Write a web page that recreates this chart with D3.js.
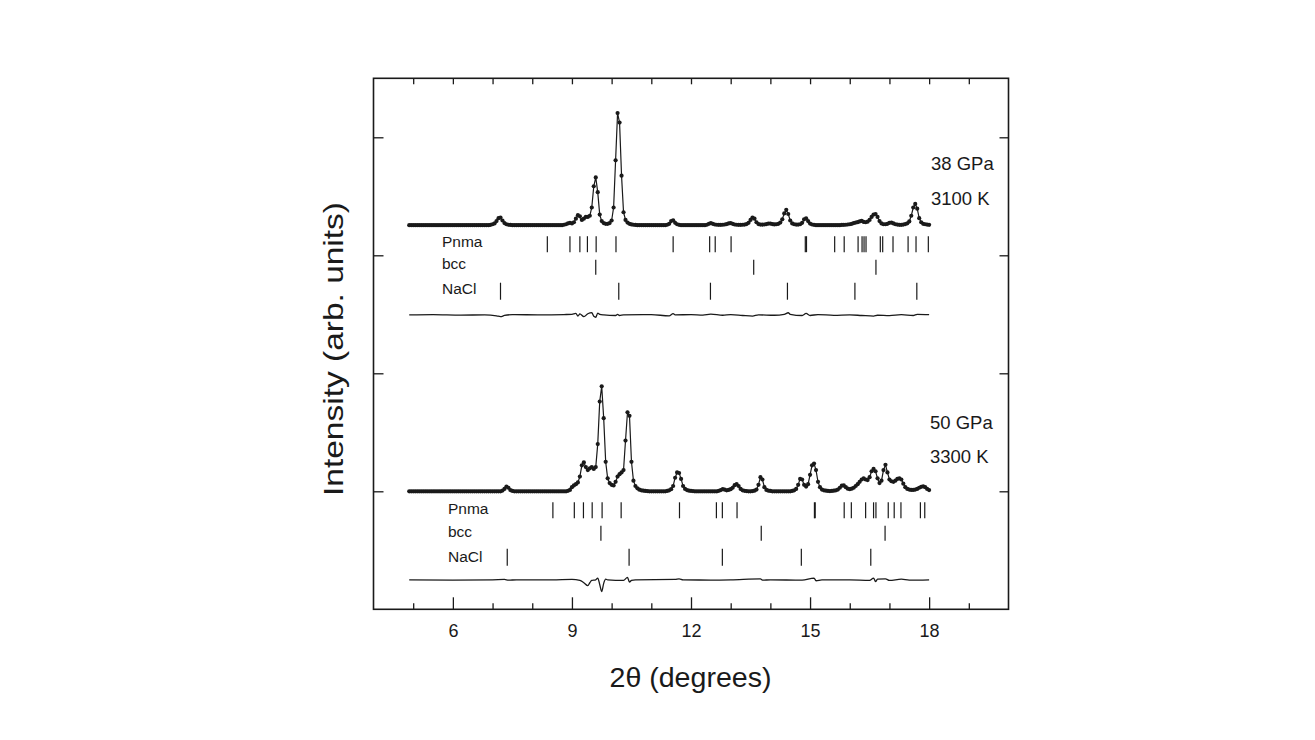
<!DOCTYPE html>
<html><head><meta charset="utf-8">
<script src="https://cdn.jsdelivr.net/npm/d3@7"></script>
<style>
body{margin:0;background:#fff}
svg{display:block}
text{font-family:"Liberation Sans",Arial,Helvetica,sans-serif;fill:#1a1a1a}
</style>
</head><body>
<svg id="c" width="1315" height="740"></svg>
<script>
// ---------------- DATA ----------------
const twoThetaStep = 0.05;               // constant scan step (deg)
const xTicksMajor = [6, 9, 12, 15, 18];
const xTicksMinor = [5, 7, 8, 10, 11, 13, 14, 16, 17, 19];
const yTicks = [1000, 2000, 3000, 4000];

// observed intensities (counts above pattern background), rows start at given 2θ
const obs38 = [
  [4.9,  [0,0]],
  [5.0,  [0,0,0,0,0,0,0,0,0,0,0,0,0,0,0,0,0,0,0,0]],
  [6.0,  [0,0,0,0,0,0,0,0,0,0,0,0,0,0,0,0,0,0,0,3]],
  [7.0,  [8,15,35,60,65,40,18,8,4,2,0,0,0,0,0,0,0,0,0,0]],
  [8.0,  [0,0,0,0,0,0,0,0,0,0,0,0,0,0,0,0,4,8,15,20]],
  [9.0,  [15,25,55,85,75,45,55,70,70,80,150,330,405,280,90,35,18,12,12,18]],
  [10.0, [40,150,550,950,870,420,110,45,22,12,7,4,2,0,0,0,0,0,0,0]],
  [11.0, [0,0,0,0,0,0,0,0,4,12,35,42,20,8,3,0,0,0,0,0]],
  [12.0, [0,0,0,0,0,0,0,0,4,12,18,12,6,4,3,3,4,6,10,15]],
  [13.0, [18,12,6,4,3,3,4,5,10,20,45,65,55,25,10,5,5,6,10,14]],
  [14.0, [14,10,7,8,12,22,50,100,130,95,40,15,8,5,5,8,20,50,58,35]],
  [15.0, [14,6,3,0,0,0,0,0,0,0,0,0,0,0,0,0,2,3,4,6]],
  [16.0, [8,12,18,22,26,32,36,28,25,30,45,70,90,95,70,35,15,8,8,12]],
  [17.0, [20,22,15,8,5,3,3,5,10,16,32,80,150,180,140,60,25,12,8,5]],
  [18.0, [3]]
];
const obs50 = [
  [4.9,  [0,0]],
  [5.0,  [0,0,0,0,0,0,0,0,0,0,0,0,0,0,0,0,0,0,0,0]],
  [6.0,  [0,0,0,0,0,0,0,0,0,0,0,0,0,0,0,0,0,0,0,0]],
  [7.0,  [0,0,0,0,0,6,20,40,30,10,3,0,0,0,0,0,0,0,0,0]],
  [8.0,  [0,0,0,0,0,0,0,0,0,0,0,0,0,0,0,0,0,0,4,12]],
  [9.0,  [35,50,60,75,125,220,245,205,180,195,205,190,205,400,760,890,620,250,110,70]],
  [10.0, [55,50,80,125,145,160,180,430,670,640,250,90,45,25,14,8,5,3,2,0]],
  [11.0, [0,0,0,0,0,0,0,0,3,8,18,45,115,160,155,105,45,20,10,5]],
  [12.0, [3,2,0,0,0,0,0,0,0,0,0,0,0,0,4,10,18,14,8,12]],
  [13.0, [18,30,52,60,45,20,8,4,2,0,0,2,5,15,55,120,100,35,12,5]],
  [14.0, [3,0,0,0,0,0,0,0,0,0,0,3,8,20,55,105,100,55,40,60]],
  [15.0, [140,220,235,180,80,35,15,8,5,3,2,3,5,8,15,30,48,50,35,22]],
  [16.0, [18,22,30,45,60,80,100,110,100,95,120,170,190,170,110,70,90,180,225,160]],
  [17.0, [100,85,80,90,105,110,100,65,35,20,15,12,12,15,20,30,38,42,35,20]],
  [18.0, [10]]
];

// difference curves [2θ, counts]
const diff38 = [[4.9,0],[5.5,2],[6.2,-2],[6.8,0],[7.1,-8],[7.2,-15],[7.3,-5],[7.5,2],[8.2,0],[8.8,3],
  [9.0,5],[9.1,12],[9.15,-10],[9.2,8],[9.3,-15],[9.4,10],[9.5,20],[9.55,-12],[9.6,-20],[9.65,15],[9.7,5],
  [9.8,0],[10.1,-5],[10.15,5],[10.2,-5],[10.3,0],[11.0,2],[11.45,-8],[11.55,10],[11.6,0],[12.0,2],[12.3,-2],
  [12.5,6],[12.8,-3],[13.0,2],[13.3,-5],[13.55,-10],[13.7,0],[14.1,-3],[14.35,5],[14.45,18],[14.5,5],
  [14.8,-5],[14.9,12],[15.0,-5],[15.2,3],[15.6,-4],[16.0,0],[16.3,-5],[16.6,-10],[16.7,-3],[17.0,-6],
  [17.3,2],[17.6,-5],[17.7,5],[18.0,2]];
const diff50 = [[4.9,0],[6.0,-2],[7.0,0],[7.3,3],[7.4,-3],[7.6,0],[8.5,0],[9.0,3],[9.2,-5],[9.3,-25],
  [9.4,-50],[9.45,-25],[9.5,-5],[9.6,0],[9.65,15],[9.7,-40],[9.75,-100],[9.8,-30],[9.85,5],[9.9,0],
  [10.3,-5],[10.4,20],[10.45,-20],[10.5,-5],[10.6,0],[11.6,3],[11.7,8],[11.8,0],[12.5,-2],[13.0,0],
  [13.75,8],[13.8,-3],[14.0,0],[14.8,-3],[15.1,15],[15.15,-8],[15.3,0],[16.0,0],[16.5,-5],[16.6,15],
  [16.65,-15],[16.7,5],[16.9,8],[17.0,-5],[17.3,5],[17.5,-3],[18.0,0]];

// reflection positions (2θ)
const pnma38 = [8.38,8.95,9.20,9.39,9.61,10.11,11.55,12.47,12.61,13.01,14.88,14.91,15.62,15.86,16.21,16.31,16.36,16.41,16.77,16.83,17.09,17.47,17.67,17.98];
const bcc38  = [9.60,13.58,16.66];
const nacl38 = [7.20,10.18,12.49,14.43,16.13,17.69];
const pnma50 = [8.52,9.06,9.29,9.51,9.76,10.24,11.71,12.64,12.79,13.16,15.11,15.13,15.86,16.04,16.40,16.60,16.66,16.97,17.12,17.29,17.78,17.89];
const bcc50  = [9.73,13.77,16.89];
const nacl50 = [7.37,10.44,12.79,14.78,16.53];

// stacking offsets (counts)
const offset38 = 3255, offsetDiff38 = 2495;
const offset50 = 1000, offsetDiff50 = 250;

// ---------------- CHART ----------------
const svg = d3.select('#c');
const ink = '#1a1a1a';
const x = d3.scaleLinear().domain([4, 20]).range([373.5, 1008.5]);
const y = d3.scaleLinear().domain([0, 4500]).range([609.3, 78.3]);

function styleAxis(g){
  g.select('.domain').remove();
  g.selectAll('line').attr('stroke', ink).attr('stroke-width', 1.3);
  g.attr('font-family', null).attr('font-size', null);
}

svg.append('g').attr('transform', `translate(0,${y(0)})`)
  .call(d3.axisBottom(x).tickValues(xTicksMajor).tickSize(-12).tickPadding(15).tickFormat(d3.format('d')))
  .call(styleAxis)
  .selectAll('text').style('font-size', '18px').attr('fill', ink);
svg.append('g').attr('transform', `translate(0,${y(0)})`)
  .call(d3.axisBottom(x).tickValues(xTicksMinor).tickSize(-6).tickFormat(''))
  .call(styleAxis);
svg.append('g').attr('transform', `translate(0,${y(4500)})`)
  .call(d3.axisTop(x).tickValues(xTicksMajor.concat(xTicksMinor)).tickSize(-6).tickFormat(''))
  .call(styleAxis);
svg.append('g').attr('transform', `translate(${x(4)},0)`)
  .call(d3.axisLeft(y).tickValues(yTicks).tickSize(-10).tickFormat(''))
  .call(styleAxis);
svg.append('g').attr('transform', `translate(${x(20)},0)`)
  .call(d3.axisRight(y).tickValues(yTicks).tickSize(-9).tickFormat(''))
  .call(styleAxis);

svg.append('rect')
  .attr('x', x(4)).attr('y', y(4500))
  .attr('width', x(20) - x(4)).attr('height', y(0) - y(4500))
  .attr('fill', 'none').attr('stroke', ink).attr('stroke-width', 1.6);

const expand = rows => rows.flatMap(([s, vals]) => vals.map((v, j) => [s + j * twoThetaStep, v]));

const patterns = [
  {obs: obs38, diff: diff38, off: offset38, offD: offsetDiff38,
   phases: [['Pnma', pnma38], ['bcc', bcc38], ['NaCl', nacl38]], labelX: 442, labelDy: [16, 38, 63],
   title: ['38 GPa', '3100 K'], titleY: [163.5, 198], titleX: 931},
  {obs: obs50, diff: diff50, off: offset50, offD: offsetDiff50,
   phases: [['Pnma', pnma50], ['bcc', bcc50], ['NaCl', nacl50]], labelX: 448, labelDy: [17, 40.5, 65.5],
   title: ['50 GPa', '3300 K'], titleY: [422, 456], titleX: 930}
];
const rowSpans = [[11, 27], [34.5, 49.5], [57.5, 74.5]];

patterns.forEach(p => {
  const pts = expand(p.obs);
  const g = svg.append('g');
  const line = d3.line().x(d => x(d[0])).y(d => y(p.off + d[1]));
  g.append('path').attr('d', line(pts)).attr('fill', 'none').attr('stroke', ink).attr('stroke-width', 1.2);
  g.selectAll('circle').data(pts).join('circle')
    .attr('cx', d => x(d[0])).attr('cy', d => y(p.off + d[1])).attr('r', 2.1).attr('fill', ink);

  const dline = d3.line().x(d => x(d[0])).y(d => y(p.offD + d[1])).curve(d3.curveMonotoneX);
  g.append('path').attr('d', dline(p.diff)).attr('fill', 'none').attr('stroke', ink).attr('stroke-width', 1.3);

  const base = y(p.off);
  p.phases.forEach(([name, refl], k) => {
    g.selectAll(null).data(refl).join('line')
      .attr('x1', d => x(d)).attr('x2', d => x(d))
      .attr('y1', base + rowSpans[k][0]).attr('y2', base + rowSpans[k][1])
      .attr('stroke', ink).attr('stroke-width', 1.2);
    g.append('text').attr('x', p.labelX).attr('y', base + p.labelDy[k])
      .attr('dominant-baseline', 'central').style('font-size', '15.5px').text(name);
  });
  p.title.forEach((t, k) => {
    g.append('text').attr('x', p.titleX).attr('y', p.titleY[k])
      .attr('dominant-baseline', 'central').style('font-size', '18.5px').text(t);
  });
});

svg.append('text').attr('x', 690.5).attr('y', 687).attr('text-anchor', 'middle')
  .style('font-size', '28px').attr('textLength', 162).attr('lengthAdjust', 'spacingAndGlyphs')
  .text('2θ (degrees)');
svg.append('text').attr('transform', 'translate(342.7,349) rotate(-90)').attr('text-anchor', 'middle')
  .style('font-size', '28px').attr('textLength', 294).attr('lengthAdjust', 'spacingAndGlyphs')
  .text('Intensity (arb. units)');
</script>
</body></html>
